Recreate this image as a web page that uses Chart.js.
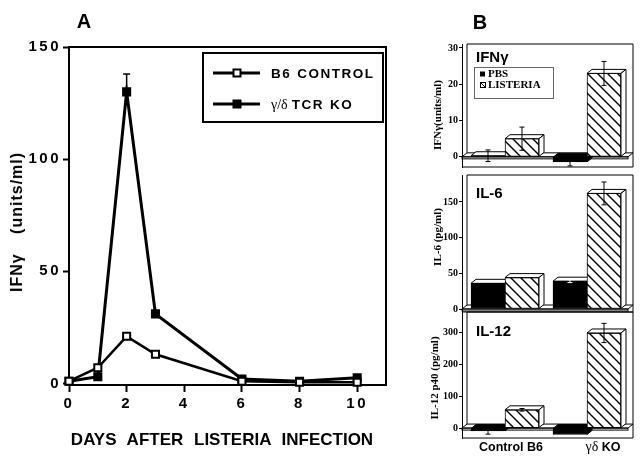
<!DOCTYPE html>
<html lang="en">
<head>
<meta charset="UTF-8" />
<title>IFNγ / IL-6 / IL-12 - Listeria</title>
<script src="https://cdn.jsdelivr.net/npm/chart.js"></script>
<style>
  body { margin: 0; background: #fff; }
  #figura { position: relative; width: 643px; height: 459px; overflow: hidden; background: #fff; }
  #figura canvas { position: absolute; }
  .txt { position: absolute; white-space: nowrap; transform: translate(-50%, -50%); line-height: 1; color: #000; }
  .esq { transform: translate(0, -50%); }
  .rot { transform: translate(-50%, -50%) rotate(-90deg); }
  .sans { font-family: "Liberation Sans", Arial, sans-serif; font-weight: bold; }
  .serif { font-family: "Liberation Serif", "Times New Roman", serif; font-weight: bold; }
  .grego { font-family: "Liberation Serif", "Times New Roman", serif; font-weight: normal; }
</style>
</head>
<body>
<div id="figura">
  <canvas id="chart_dias" width="400" height="459" style="left:0;top:0"></canvas>
  <canvas id="chart_ifn" width="243" height="139" style="left:400px;top:36px"></canvas>
  <canvas id="chart_il6" width="243" height="153" style="left:400px;top:167px"></canvas>
  <canvas id="chart_il12" width="243" height="142" style="left:400px;top:304px"></canvas>

  <div class="txt sans" style="left:84px;top:21px;font-size:20px">A</div>
  <div class="txt sans" style="left:480px;top:22px;font-size:20px">B</div>
  <div class="txt sans rot" style="left:17px;top:222px;font-size:16px;letter-spacing:1px;word-spacing:14px">IFNγ (units/ml)</div>
  <div class="txt sans" style="left:222px;top:439px;font-size:17px;word-spacing:6px">DAYS AFTER LISTERIA INFECTION</div>

  <div class="txt serif rot" style="left:437px;top:115px;font-size:11px">IFNγ(units/ml)</div>
  <div class="txt serif rot" style="left:437px;top:237px;font-size:11px">IL-6 (pg/ml)</div>
  <div class="txt serif rot" style="left:434px;top:378px;font-size:11px">IL-12 p40 (pg/ml)</div>

  <div class="txt sans esq" style="left:476px;top:56px;font-size:15px">IFNγ</div>
  <div class="txt sans esq" style="left:476px;top:192px;font-size:15px">IL-6</div>
  <div class="txt sans esq" style="left:476px;top:330px;font-size:15px">IL-12</div>

  <div id="rotulo_0" class="txt sans" style="left:511px;top:447px;font-size:12.5px"></div>
  <div id="rotulo_1" class="txt sans" style="left:603px;top:447px;font-size:12.5px"></div>
</div>

<script>
   // painel A - IFNγ ao longo dos dias
   const dias = [0, 1, 2, 3, 6, 8, 10];
   const b6_controle = [1, 7, 21, 13, 1, 0.5, 0.5];
   const tcr_ko = [1, 3, 130, 31, 2, 1, 2.5];
   const tcr_ko_erro = [0, 0, 8, 0, 0, 0, 0];
   const nomes_series = ["B6 CONTROL", "γ/δ TCR KO"];
   const ticks_dias = [0, 2, 4, 6, 8, 10];
   const ticks_ifn_a = [0, 50, 100, 150];

   // painel B - citocinas por grupo
   const grupos = ["Control B6", "γδ KO"];
   const tratamentos = ["PBS", "LISTERIA"];
   const ifn_pbs = [0.3, -1.4];
   const ifn_pbs_erro = [1.6, 1.1];
   const ifn_listeria = [5, 23];
   const ifn_listeria_erro = [3.2, 3.3];
   const il6_pbs = [36, 39];
   const il6_pbs_erro = [0, 2];
   const il6_listeria = [44, 162];
   const il6_listeria_erro = [0, 16];
   const il12_pbs = [-9, -20];
   const il12_pbs_erro = [10, 0];
   const il12_listeria = [57, 297];
   const il12_listeria_erro = [4, 30];
   const ticks_ifn_b = [0, 10, 20, 30];
   const ticks_il6 = [0, 50, 100, 150];
   const ticks_il12 = [0, 100, 200, 300];

   const SANS = "'Liberation Sans', Arial, sans-serif";
   const SERIF = "'Liberation Serif', 'Times New Roman', serif";

   // rotulos das categorias (letra grega em serif)
   grupos.forEach((g, i) => {
      const el = document.getElementById("rotulo_" + i);
      el.innerHTML = g.replace(/([\u0370-\u03ff\/]+)/g, '<span class="grego" style="font-size:14px">$1</span>');
   });

   //config painel A
   const plugin_a = {
      id: "moldura_a",
      beforeDraw(chart) {
         chart.ctx.letterSpacing = "2.5px";
      },
      beforeDatasetsDraw(chart) {
         const { ctx, chartArea: a } = chart;
         ctx.save();
         ctx.strokeStyle = "#000";
         ctx.lineWidth = 2;
         ctx.beginPath();
         ctx.moveTo(a.left, a.top);
         ctx.lineTo(a.right, a.top);
         ctx.lineTo(a.right, a.bottom);
         ctx.stroke();
         // barra de erro
         const ys = chart.scales.y;
         const meta = chart.getDatasetMeta(1);
         ctx.lineWidth = 1.5;
         tcr_ko_erro.forEach((e, i) => {
            if (!e) return;
            const p = meta.data[i];
            const topo = ys.getPixelForValue(tcr_ko[i] + e);
            ctx.beginPath();
            ctx.moveTo(p.x, p.y);
            ctx.lineTo(p.x, topo);
            ctx.moveTo(p.x - 3.5, topo);
            ctx.lineTo(p.x + 3.5, topo);
            ctx.stroke();
         });
         ctx.restore();
      },
      afterDatasetsDraw(chart) {
         const ctx = chart.ctx;
         ctx.save();
         ctx.fillStyle = "#fff";
         ctx.fillRect(203, 53, 180, 69);
         ctx.strokeStyle = "#000";
         ctx.lineWidth = 2;
         ctx.strokeRect(203, 53, 180, 69);
         const linhas_y = [73, 104];
         chart.data.datasets.forEach((ds, i) => {
            const yy = linhas_y[i];
            ctx.lineWidth = 3;
            ctx.beginPath();
            ctx.moveTo(213, yy);
            ctx.lineTo(260, yy);
            ctx.stroke();
            ctx.lineWidth = 2;
            ctx.fillStyle = ds.pointBackgroundColor;
            ctx.fillRect(233.5, yy - 3.5, 7, 7);
            ctx.strokeRect(233.5, yy - 3.5, 7, 7);
            ctx.fillStyle = "#000";
            ctx.textBaseline = "middle";
            let xx = 271;
            ds.label.split(" ").forEach((p) => {
               const grego = /[\u0370-\u03ff]/.test(p);
               ctx.font = grego ? "14px " + SERIF : "bold 13.5px " + SANS;
               ctx.letterSpacing = grego ? "0px" : "1.5px";
               ctx.fillText(p, xx, yy + 1.5);
               xx += ctx.measureText(p).width + (grego ? 4 : 6);
            });
         });
         ctx.restore();
      },
   };

   const fonte_a = { family: SANS, weight: "bold", size: 15 };

   const grafico_dias = new Chart(document.getElementById("chart_dias"), {
      type: "line",
      data: {
         datasets: [
            {
               label: nomes_series[0],
               data: dias.map((d, i) => ({ x: d, y: b6_controle[i] })),
               borderColor: "#000",
               borderWidth: 2.5,
               pointStyle: "rect",
               pointRadius: 5,
               pointBackgroundColor: "#fff",
               pointBorderColor: "#000",
               pointBorderWidth: 2,
               clip: false,
            },
            {
               label: nomes_series[1],
               data: dias.map((d, i) => ({ x: d, y: tcr_ko[i] })),
               borderColor: "#000",
               borderWidth: 3,
               pointStyle: "rect",
               pointRadius: 5,
               pointBackgroundColor: "#000",
               pointBorderColor: "#000",
               pointBorderWidth: 2,
               clip: false,
            },
         ],
      },
      options: {
         responsive: false,
         animation: false,
         devicePixelRatio: 1,
         layout: { padding: { top: 47, right: 14, left: 0, bottom: 0 } },
         scales: {
            x: {
               type: "linear",
               min: 0,
               max: 11,
               afterBuildTicks: (s) => { s.ticks = ticks_dias.map((v) => ({ value: v })); },
               afterFit: (s) => { s.height = 74; },
               border: { color: "#000", width: 2 },
               grid: { drawOnChartArea: false, tickLength: 7, tickColor: "#000", tickWidth: 2 },
               ticks: { color: "#000", font: fonte_a, padding: 3, maxRotation: 0, autoSkip: false },
            },
            y: {
               min: -0.7,
               max: 150,
               afterBuildTicks: (s) => { s.ticks = ticks_ifn_a.map((v) => ({ value: v })); },
               afterFit: (s) => { s.width = 69; },
               border: { color: "#000", width: 2 },
               grid: { drawOnChartArea: false, tickLength: 6, tickColor: "#000", tickWidth: 2 },
               ticks: { color: "#000", font: fonte_a, padding: 2 },
            },
         },
         plugins: { legend: { display: false }, tooltip: { enabled: false } },
      },
      plugins: [plugin_a],
   });

   //config painel B (barras em 3D com hachura)
   const DX = 5, DY = 4;

   function criar_hachura() {
      const c = document.createElement("canvas");
      c.width = 10;
      c.height = 10;
      const g = c.getContext("2d");
      g.fillStyle = "#fff";
      g.fillRect(0, 0, 10, 10);
      g.strokeStyle = "#000";
      g.lineWidth = 1.4;
      [-10, 0, 10].forEach((k) => {
         g.beginPath();
         g.moveTo(k - 1, -1);
         g.lineTo(k + 11, 11);
         g.stroke();
      });
      return g.createPattern(c, "repeat");
   }
   const hachura = criar_hachura();

   function faces_3d(ctx, meta, preto) {
      meta.data.forEach((bar) => {
         const { x, y, base, width } = bar.getProps(["x", "y", "base", "width"], true);
         const l = x - width / 2, r = x + width / 2;
         const topo = Math.min(y, base), fundo = Math.max(y, base);
         ctx.fillStyle = preto && y > base ? "#000" : "#fff";
         ctx.beginPath();
         ctx.moveTo(l, topo);
         ctx.lineTo(l + DX, topo - DY);
         ctx.lineTo(r + DX, topo - DY);
         ctx.lineTo(r, topo);
         ctx.closePath();
         ctx.fill();
         ctx.stroke();
         ctx.fillStyle = preto ? "#000" : "#fff";
         ctx.beginPath();
         ctx.moveTo(r, topo);
         ctx.lineTo(r + DX, topo - DY);
         ctx.lineTo(r + DX, fundo - DY);
         ctx.lineTo(r, fundo);
         ctx.closePath();
         ctx.fill();
         ctx.stroke();
      });
   }

   const plugin_3d = {
      id: "caixa3d",
      beforeDatasetsDraw(chart) {
         const { ctx, chartArea: a } = chart;
         const y0 = chart.scales.y.getPixelForValue(0);
         ctx.save();
         ctx.strokeStyle = "#000";
         ctx.lineWidth = 1;
         ctx.beginPath();
         ctx.moveTo(a.left + DX, y0 - DY);
         ctx.lineTo(a.left + DX, a.top);
         ctx.lineTo(a.right, a.top);
         ctx.lineTo(a.right, a.bottom);
         ctx.lineTo(a.left, a.bottom);
         ctx.stroke();
         // chao
         ctx.fillStyle = "#fff";
         ctx.beginPath();
         ctx.moveTo(a.left, y0);
         ctx.lineTo(a.left + DX, y0 - DY);
         ctx.lineTo(a.right, y0 - DY);
         ctx.lineTo(a.right - DX, y0);
         ctx.closePath();
         ctx.fill();
         ctx.stroke();
         ctx.strokeRect(a.left, y0, a.right - DX - a.left, 2);
         faces_3d(ctx, chart.getDatasetMeta(0), true);
         ctx.restore();
      },
      afterDatasetsDraw(chart, args, opts) {
         const ctx = chart.ctx;
         const ys = chart.scales.y;
         ctx.save();
         ctx.strokeStyle = "#000";
         ctx.lineWidth = 1;
         faces_3d(ctx, chart.getDatasetMeta(1), false);
         // barras de erro
         chart.data.datasets.forEach((ds, d) => {
            chart.getDatasetMeta(d).data.forEach((bar, i) => {
               const e = ds.erros[i];
               if (!e) return;
               const v = ds.data[i].y;
               const a = ys.getPixelForValue(v + e), b = ys.getPixelForValue(v - e);
               ctx.strokeStyle = d === 0 && v - e > 0 ? "#fff" : "#000";
               ctx.beginPath();
               ctx.moveTo(bar.x, a);
               ctx.lineTo(bar.x, b);
               ctx.moveTo(bar.x - 2.5, a);
               ctx.lineTo(bar.x + 2.5, a);
               ctx.moveTo(bar.x - 2.5, b);
               ctx.lineTo(bar.x + 2.5, b);
               ctx.stroke();
            });
         });
         if (opts.legenda) {
            ctx.strokeStyle = "#666";
            ctx.strokeRect(74.5, 31.5, 79, 31);
            ctx.strokeStyle = "#000";
            ctx.font = "bold 11px " + SERIF;
            ctx.textBaseline = "middle";
            const linhas = [38, 49];
            chart.data.datasets.forEach((ds, d) => {
               const yy = linhas[d];
               if (d === 0) {
                  ctx.fillStyle = "#000";
                  ctx.fillRect(80, yy - 2.5, 5, 5);
               } else {
                  ctx.fillStyle = "#fff";
                  ctx.fillRect(80.5, yy - 2.5, 5, 5);
                  ctx.strokeRect(80.5, yy - 2.5, 5, 5);
                  ctx.beginPath();
                  ctx.moveTo(80.5, yy - 2.5);
                  ctx.lineTo(85.5, yy + 2.5);
                  ctx.stroke();
               }
               ctx.fillStyle = "#000";
               ctx.fillText(ds.label, 88, yy + 0.5);
            });
         }
         ctx.restore();
      },
   };

   function grafico_citocina(id, pbs, pbs_erro, lis, lis_erro, y_min, y_max, y_ticks, legenda) {
      return new Chart(document.getElementById(id), {
         type: "bar",
         data: {
            datasets: [
               {
                  label: tratamentos[0],
                  data: pbs.map((v, i) => ({ x: i, y: v })),
                  erros: pbs_erro,
                  backgroundColor: "#000",
                  borderColor: "#000",
                  borderWidth: 1,
                  borderSkipped: false,
                  barThickness: 34,
               },
               {
                  label: tratamentos[1],
                  data: lis.map((v, i) => ({ x: i, y: v })),
                  erros: lis_erro,
                  backgroundColor: hachura,
                  borderColor: "#000",
                  borderWidth: 1,
                  borderSkipped: false,
                  barThickness: 34,
               },
            ],
         },
         options: {
            responsive: false,
            animation: false,
            devicePixelRatio: 1,
            layout: { padding: { top: 8, bottom: 8, left: 0, right: 10 } },
            scales: {
               x: {
                  type: "linear",
                  display: false,
                  offset: false,
                  min: -0.5244,
                  max: 1.561,
                  afterBuildTicks: (s) => { s.ticks = [{ value: 0 }, { value: 1 }]; },
               },
               y: {
                  min: y_min,
                  max: y_max,
                  afterBuildTicks: (s) => { s.ticks = y_ticks.map((v) => ({ value: v })); },
                  afterFit: (s) => { s.width = 62; },
                  border: { color: "#000", width: 1 },
                  grid: { drawOnChartArea: false, tickLength: 3, tickColor: "#000", tickWidth: 1 },
                  ticks: { color: "#000", font: { family: SERIF, weight: "bold", size: 10 }, padding: 1 },
               },
            },
            plugins: {
               legend: { display: false },
               tooltip: { enabled: false },
               caixa3d: { legenda: legenda },
            },
         },
         plugins: [plugin_3d],
      });
   }

   const grafico_ifn = grafico_citocina("chart_ifn", ifn_pbs, ifn_pbs_erro, ifn_listeria, ifn_listeria_erro, -2.8, 31.1, ticks_ifn_b, true);
   const grafico_il6 = grafico_citocina("chart_il6", il6_pbs, il6_pbs_erro, il6_listeria, il6_listeria_erro, -4.2, 187.8, ticks_il6, false);
   const grafico_il12 = grafico_citocina("chart_il12", il12_pbs, il12_pbs_erro, il12_listeria, il12_listeria_erro, -31, 362.5, ticks_il12, false);
</script>
</body>
</html>
